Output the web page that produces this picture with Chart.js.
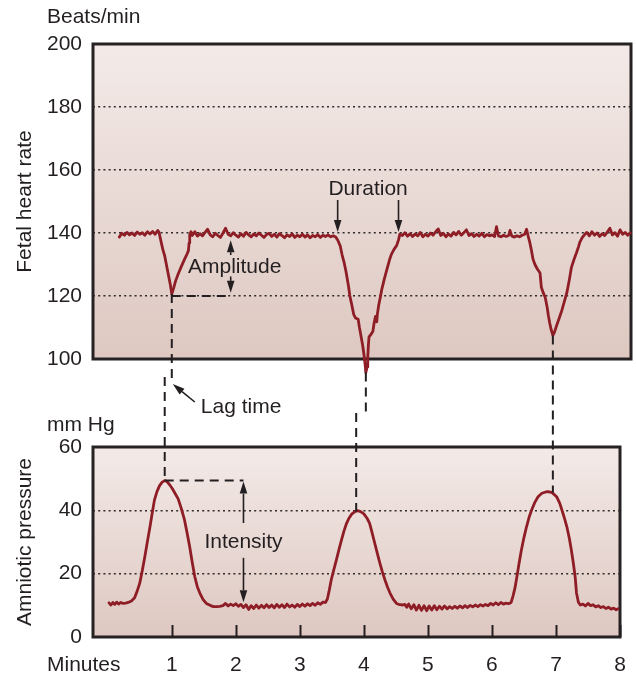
<!DOCTYPE html>
<html>
<head>
<meta charset="utf-8">
<script src="https://cdn.jsdelivr.net/npm/chart.js@4"></script>
<style>
  html, body { margin: 0; padding: 0; background: #ffffff; }
  #wrap { position: relative; width: 636px; height: 675px; }
  #wrap canvas { position: absolute; left: 0; top: 0; }
</style>
</head>
<body>
<div id="wrap">
  <canvas id="fhr" width="636" height="675"></canvas>
  <canvas id="amn" width="636" height="675"></canvas>
</div>
<script>
// Axis ticks
const minuteTicks = [1, 2, 3, 4, 5, 6, 7, 8];
const fhrTicks = [100, 120, 140, 160, 180, 200];
const pressureTicks = [0, 20, 40, 60];

// Fetal heart rate trace: [minute, beats/min]
const heartRate = [
  [0.18,138.7],[0.22,139.9],[0.26,139.3],[0.30,140.2],[0.34,139.4],[0.38,140.0],[0.42,139.2],[0.46,140.3],
  [0.50,139.6],[0.54,140.1],[0.58,139.3],[0.62,140.4],[0.66,139.7],[0.70,140.5],[0.74,139.6],[0.78,140.8],[0.80,140.3],
  [0.83,137.5],[0.86,134.8],[0.89,132.7],[0.93,128.5],[0.96,125.4],[0.98,123.3],[1.00,120.6],[1.03,122.6],
  [1.06,124.8],[1.10,127.0],[1.15,129.4],[1.20,131.7],[1.24,133.4],[1.26,134.4],[1.27,136.8],[1.28,139.4],[1.30,140.4],
  [1.32,139.2],[1.36,140.4],[1.40,139.0],[1.44,139.8],[1.48,139.1],[1.52,140.2],[1.56,141.2],[1.60,139.4],
  [1.64,138.8],[1.68,139.9],[1.72,139.2],[1.76,138.6],[1.80,140.0],[1.84,141.5],[1.88,139.6],[1.92,139.1],
  [1.96,140.1],[2.00,139.3],[2.04,138.7],[2.08,139.8],[2.12,139.0],[2.16,140.2],[2.20,139.4],[2.24,138.8],
  [2.28,139.7],[2.32,139.1],[2.36,140.0],[2.40,139.3],[2.44,138.6],[2.48,139.5],[2.52,139.9],[2.56,138.9],
  [2.60,139.6],[2.64,138.7],[2.68,139.8],[2.72,139.2],[2.76,138.5],[2.80,139.4],[2.84,138.9],[2.88,139.7],
  [2.92,138.6],[2.96,139.3],[3.00,138.8],[3.04,139.6],[3.08,138.7],[3.12,139.4],[3.16,138.5],[3.20,139.2],
  [3.24,138.8],[3.28,139.5],[3.32,138.6],[3.36,139.3],[3.40,138.9],[3.44,139.4],[3.48,138.8],[3.52,139.1],[3.56,138.7],
  [3.59,137.8],[3.63,135.9],[3.66,133.0],[3.69,130.7],[3.72,127.8],[3.74,125.4],[3.76,123.0],[3.78,120.1],
  [3.81,117.2],[3.84,114.2],[3.87,113.0],[3.91,112.6],[3.93,110.0],[3.95,107.8],[3.98,104.4],[4.00,101.5],
  [4.02,98.0],[4.03,95.7],[4.05,97.5],[4.06,100.5],[4.07,104.5],[4.08,107.0],[4.11,107.8],[4.14,108.8],
  [4.16,111.5],[4.18,113.5],[4.20,111.8],[4.21,114.2],[4.23,117.0],[4.26,120.0],[4.28,122.2],[4.32,125.5],
  [4.36,128.5],[4.40,131.5],[4.43,133.3],[4.47,134.8],[4.51,136.0],[4.54,137.8],[4.56,139.6],
  [4.60,139.2],[4.64,140.1],[4.68,139.0],[4.72,139.8],[4.76,138.9],[4.80,139.7],[4.84,139.1],[4.88,140.2],
  [4.92,138.8],[4.96,139.6],[5.00,139.0],[5.04,140.0],[5.08,139.3],[5.12,140.4],[5.16,141.3],[5.20,139.2],
  [5.24,139.9],[5.28,138.8],[5.32,139.7],[5.36,139.0],[5.40,140.2],[5.44,139.4],[5.48,140.5],[5.52,139.3],
  [5.56,140.1],[5.60,141.0],[5.64,139.2],[5.68,139.8],[5.72,138.9],[5.76,139.6],[5.80,139.0],[5.84,139.9],
  [5.88,138.8],[5.92,139.5],[5.96,139.1],[6.00,139.4],[6.04,138.9],[6.07,142.0],[6.10,139.1],[6.14,138.8],
  [6.18,139.3],[6.22,138.9],[6.26,139.2],[6.28,140.8],[6.31,139.0],[6.35,138.7],[6.39,139.1],[6.43,138.8],
  [6.47,139.3],[6.51,139.6],[6.54,141.2],
  [6.57,138.5],[6.59,137.0],[6.62,134.0],[6.64,131.7],[6.67,130.0],[6.71,128.5],[6.75,127.3],[6.77,122.8],
  [6.80,121.0],[6.83,119.6],[6.86,116.5],[6.88,113.8],[6.90,111.5],[6.92,109.6],[6.95,107.5],[6.97,108.2],
  [7.01,110.7],[7.05,113.0],[7.09,115.4],[7.13,118.3],[7.17,121.2],[7.21,125.5],[7.24,129.1],[7.28,131.6],
  [7.32,133.8],[7.35,135.6],[7.37,137.0],[7.41,138.6],[7.45,139.6],
  [7.48,140.2],[7.52,139.1],[7.56,140.4],[7.60,139.3],[7.64,140.0],[7.68,138.9],[7.72,139.8],[7.76,139.2],
  [7.80,140.3],[7.84,141.5],[7.88,139.4],[7.92,140.1],[7.96,139.0],[8.00,141.0],[8.04,139.6],[8.08,140.2],
  [8.12,139.3],[8.16,140.0]
];

// Amniotic pressure trace: [minute, mm Hg]
const amnioticPressure = [
  [0.02,10.8],[0.05,10.1],[0.08,10.9],[0.11,10.3],[0.14,11.0],[0.17,10.4],[0.20,10.9],[0.24,10.6],[0.28,10.7],[0.32,10.9],
  [0.37,11.4],[0.42,12.4],[0.46,14.5],[0.50,17.0],[0.54,21.0],[0.58,25.4],[0.62,30.2],[0.66,34.8],[0.70,39.8],
  [0.73,43.3],[0.77,46.0],[0.81,47.8],[0.85,48.9],[0.89,49.4],[0.93,49.0],[0.97,48.0],[1.01,46.8],[1.05,45.4],
  [1.10,43.6],[1.15,40.5],[1.20,36.9],[1.24,32.8],[1.28,28.5],[1.32,23.5],[1.36,19.0],[1.40,15.8],[1.44,13.8],
  [1.49,11.8],[1.54,10.6],[1.60,10.0],[1.65,9.6],
  [1.70,9.6],[1.75,9.7],[1.80,9.9],[1.84,10.6],[1.88,9.8],[1.92,10.4],[1.96,9.9],[2.00,10.5],[2.04,9.7],
  [2.08,10.3],[2.12,9.3],[2.16,10.2],[2.20,8.7],[2.24,9.9],[2.28,9.0],[2.32,10.1],[2.36,9.1],[2.40,10.0],
  [2.44,9.2],[2.48,10.2],[2.52,9.3],[2.56,10.1],[2.60,9.2],[2.64,10.3],[2.68,9.4],[2.72,10.2],[2.76,9.3],
  [2.80,10.4],[2.84,9.5],[2.88,10.1],[2.92,9.4],[2.96,10.3],[3.00,9.6],[3.04,10.4],[3.08,9.7],[3.12,10.5],
  [3.16,9.9],[3.20,10.6],[3.24,10.0],[3.28,10.8],[3.32,10.3],[3.36,11.0],[3.40,10.9],
  [3.43,12.0],[3.46,14.8],[3.49,18.0],[3.53,21.2],[3.57,24.3],[3.61,27.5],[3.65,30.6],[3.69,33.5],[3.73,35.9],
  [3.77,37.6],[3.81,38.8],[3.86,39.6],[3.90,39.9],[3.95,39.6],[4.00,38.9],[4.05,37.5],[4.09,35.9],[4.13,32.8],
  [4.17,29.6],[4.21,26.4],[4.25,23.3],[4.29,20.5],[4.33,18.0],[4.37,15.7],[4.41,13.8],[4.46,11.9],[4.51,10.6],
  [4.56,10.2],[4.61,10.1],
  [4.64,10.3],[4.67,9.4],[4.70,10.4],[4.74,8.9],[4.78,10.2],[4.82,8.5],[4.86,10.0],[4.90,8.4],[4.94,9.9],
  [4.98,8.3],[5.02,9.8],[5.06,8.5],[5.10,9.9],[5.14,8.6],[5.18,9.7],[5.22,8.8],[5.26,9.8],[5.30,8.9],[5.34,9.6],
  [5.38,9.0],[5.42,9.7],[5.46,9.1],[5.50,9.8],[5.54,9.2],[5.58,9.9],[5.62,9.3],[5.66,10.0],[5.70,9.5],[5.74,10.1],
  [5.78,9.6],[5.82,10.2],[5.86,9.8],[5.90,10.3],[5.94,9.9],[5.98,10.6],[6.02,10.1],[6.06,10.8],[6.10,10.2],
  [6.14,10.9],[6.18,10.4],[6.22,10.7],[6.26,10.5],[6.30,10.9],
  [6.33,13.0],[6.36,15.5],[6.39,19.0],[6.42,22.8],[6.46,27.5],[6.50,31.4],[6.54,34.8],[6.58,37.8],[6.62,40.1],
  [6.67,42.5],[6.72,44.3],[6.78,45.4],[6.84,45.8],[6.88,45.9],[6.94,45.6],[7.01,44.3],[7.06,42.2],[7.11,39.0],
  [7.14,37.0],[7.17,34.8],[7.21,31.0],[7.24,27.5],[7.27,23.5],[7.30,19.0],[7.32,14.0],[7.35,11.0],[7.38,10.1],
  [7.42,10.4],[7.46,9.8],[7.50,10.6],[7.54,9.9],[7.58,10.2],[7.62,9.5],[7.66,9.9],[7.70,9.3],[7.74,9.6],
  [7.78,9.0],[7.82,9.4],[7.86,8.8],[7.90,9.1],[7.94,8.6],[7.97,8.9]
];

// Dashed links between each deceleration nadir and its contraction peak (minutes)
const lagLinks = [
  { fhrAt: 1.00, pressureAt: 0.89, splitY: 379 },
  { fhrAt: 4.03, pressureAt: 3.88, splitY: 415 },
  { fhrAt: 6.95, pressureAt: 6.95, splitY: 415 }
];

const INK = '#231f20';
const TRACE = '#8e1d26';
const FONT = '"Liberation Sans", Arial, Helvetica, sans-serif';
Chart.defaults.font.family = FONT;
Chart.defaults.font.size = 21;
Chart.defaults.color = INK;

function valueAt(series, t) {
  let best = series[0];
  for (const p of series) if (Math.abs(p[0] - t) < Math.abs(best[0] - t)) best = p;
  return best[1];
}

function dashed(ctx, x1, y1, x2, y2) {
  ctx.save();
  ctx.strokeStyle = INK; ctx.lineWidth = 2; ctx.setLineDash([9, 6]);
  ctx.beginPath(); ctx.moveTo(x1, y1); ctx.lineTo(x2, y2); ctx.stroke();
  ctx.restore();
}

function arrow(ctx, x1, y1, x2, y2) {
  const head = 12, half = 3.8;
  const a = Math.atan2(y2 - y1, x2 - x1);
  const bx = x2 - head * Math.cos(a), by = y2 - head * Math.sin(a);
  ctx.save();
  ctx.strokeStyle = INK; ctx.fillStyle = INK; ctx.lineWidth = 1.6;
  ctx.beginPath(); ctx.moveTo(x1, y1); ctx.lineTo(bx, by); ctx.stroke();
  ctx.beginPath(); ctx.moveTo(x2, y2);
  ctx.lineTo(bx + half * Math.sin(a), by - half * Math.cos(a));
  ctx.lineTo(bx - half * Math.sin(a), by + half * Math.cos(a));
  ctx.closePath(); ctx.fill();
  ctx.restore();
}

function label(ctx, text, x, y, align) {
  ctx.save();
  ctx.fillStyle = INK; ctx.font = '21px ' + FONT;
  ctx.textAlign = align || 'center'; ctx.textBaseline = 'middle';
  ctx.fillText(text, x, y);
  ctx.restore();
}

// Shaded panel with a dark frame
const panelPlugin = {
  id: 'panel',
  beforeDraw(chart) {
    const { ctx, chartArea: a } = chart;
    const g = ctx.createLinearGradient(0, a.top, 0, a.bottom);
    g.addColorStop(0, '#f3eae7');
    g.addColorStop(1, '#dec8c1');
    ctx.save();
    ctx.fillStyle = g;
    ctx.fillRect(a.left, a.top, a.right - a.left, a.bottom - a.top);
    ctx.restore();
  },
  beforeDatasetsDraw(chart) {
    const { ctx, chartArea: a } = chart;
    ctx.save();
    ctx.strokeStyle = '#262122'; ctx.lineWidth = 3;
    ctx.strokeRect(a.left, a.top, a.right - a.left, a.bottom - a.top);
    ctx.restore();
  }
};

function yAxis(ticks, title) {
  const lo = ticks[0], hi = ticks[ticks.length - 1];
  return {
    min: lo, max: hi,
    afterBuildTicks: s => { s.ticks = ticks.map(v => ({ value: v })); },
    afterFit: s => { s.width = 93; },
    grid: {
      color: c => (c.tick && c.tick.value > lo && c.tick.value < hi) ? '#2f2a2a' : 'rgba(0,0,0,0)',
      lineWidth: 1.6, drawTicks: false
    },
    border: { display: false, dash: [2, 3.2] },
    ticks: { padding: 11, color: INK, font: { size: 21 } },
    title: { display: true, text: title, color: INK, font: { size: 21 }, padding: { top: 13, bottom: 0 } }
  };
}

// Heart-rate annotations: Duration, Amplitude, Lag time
const fhrNotes = {
  id: 'fhrNotes',
  afterDatasetsDraw(chart) {
    const { ctx } = chart;
    const x = chart.scales.x, y = chart.scales.y;
    label(ctx, 'Beats/min', 47, 17, 'left');

    const d1 = x.getPixelForValue(3.59), d2 = x.getPixelForValue(4.54);
    const base = y.getPixelForValue(140);
    label(ctx, 'Duration', (d1 + d2) / 2, base - 44);
    arrow(ctx, d1, base - 33, d1, base - 1);
    arrow(ctx, d2, base - 33, d2, base - 1);

    const ax = x.getPixelForValue(1.92);
    dashed(ctx, x.getPixelForValue(1.00), y.getPixelForValue(120), ax, y.getPixelForValue(120));
    arrow(ctx, ax, y.getPixelForValue(133), ax, y.getPixelForValue(137.7));
    arrow(ctx, ax, y.getPixelForValue(126.2), ax, y.getPixelForValue(121));
    label(ctx, 'Amplitude', ax + 4, y.getPixelForValue(129.3));

    const lx = x.getPixelForValue(1.00);
    arrow(ctx, lx + 23, 402, lx + 1, 384);
    label(ctx, 'Lag time', lx + 29, 407, 'left');
  }
};

const fhrChart = new Chart(document.getElementById('fhr'), {
  type: 'line',
  data: {
    datasets: [{
      data: heartRate.map(([t, v]) => ({ x: t, y: v })),
      borderColor: TRACE, borderWidth: 2.8, pointRadius: 0, tension: 0,
      borderJoinStyle: 'round', borderCapStyle: 'round', clip: false
    }]
  },
  options: {
    responsive: false, animation: false, events: [],
    layout: { padding: { top: 44, right: 5, bottom: 316, left: 0 } },
    plugins: { legend: { display: false }, tooltip: { enabled: false } },
    scales: {
      x: { type: 'linear', min: -0.23, max: 8.17, display: false },
      y: yAxis(fhrTicks, 'Fetal heart rate')
    }
  },
  plugins: [panelPlugin, fhrNotes]
});

// Pressure annotations: Intensity, lag links, tick marks, unit labels
const amnNotes = {
  id: 'amnNotes',
  afterDatasetsDraw(chart) {
    const { ctx, chartArea: a } = chart;
    const x = chart.scales.x, y = chart.scales.y;
    const tx = fhrChart.scales.x, ty = fhrChart.scales.y;

    label(ctx, 'mm Hg', 47, 425, 'left');
    label(ctx, 'Minutes', 47, 665, 'left');

    ctx.save();
    ctx.strokeStyle = INK; ctx.lineWidth = 2;
    for (const m of minuteTicks) {
      const px = Math.round(x.getPixelForValue(m)) + 0.5;
      ctx.beginPath(); ctx.moveTo(px, a.bottom); ctx.lineTo(px, a.bottom - 12); ctx.stroke();
    }
    ctx.restore();

    for (const link of lagLinks) {
      const ux = tx.getPixelForValue(link.fhrAt);
      const uy = ty.getPixelForValue(valueAt(heartRate, link.fhrAt));
      const lx = x.getPixelForValue(link.pressureAt);
      const ly = y.getPixelForValue(valueAt(amnioticPressure, link.pressureAt));
      if (link.fhrAt === link.pressureAt) {
        dashed(ctx, ux, uy, ux, ly);
      } else {
        dashed(ctx, ux, uy, ux, link.splitY);
        dashed(ctx, lx, link.splitY - 2, lx, ly);
      }
    }

    const pk = valueAt(amnioticPressure, 0.89);
    const ix = x.getPixelForValue(2.12);
    const py = y.getPixelForValue(pk);
    dashed(ctx, x.getPixelForValue(0.89), py, ix, py);
    arrow(ctx, ix, y.getPixelForValue(36), ix, py + 1);
    arrow(ctx, ix, y.getPixelForValue(25), ix, y.getPixelForValue(11));
    label(ctx, 'Intensity', ix, y.getPixelForValue(30));
  }
};

new Chart(document.getElementById('amn'), {
  type: 'line',
  data: {
    datasets: [{
      data: amnioticPressure.map(([t, v]) => ({ x: t, y: v })),
      borderColor: TRACE, borderWidth: 2.8, pointRadius: 0, tension: 0,
      borderJoinStyle: 'round', borderCapStyle: 'round', clip: false
    }]
  },
  options: {
    responsive: false, animation: false, events: [],
    layout: { padding: { top: 447, right: 16, bottom: 0, left: 0 } },
    plugins: { legend: { display: false }, tooltip: { enabled: false } },
    scales: {
      x: {
        type: 'linear', min: -0.23, max: 8,
        afterBuildTicks: s => { s.ticks = minuteTicks.map(v => ({ value: v })); },
        afterFit: s => { s.height = 38; s.paddingLeft = 0; s.paddingRight = 8; },
        grid: { display: false, drawTicks: false },
        border: { display: false },
        ticks: { padding: 16, color: INK, font: { size: 21 }, autoSkip: false, maxRotation: 0 }
      },
      y: yAxis(pressureTicks, 'Amniotic pressure')
    }
  },
  plugins: [panelPlugin, amnNotes]
});
</script>
</body>
</html>
